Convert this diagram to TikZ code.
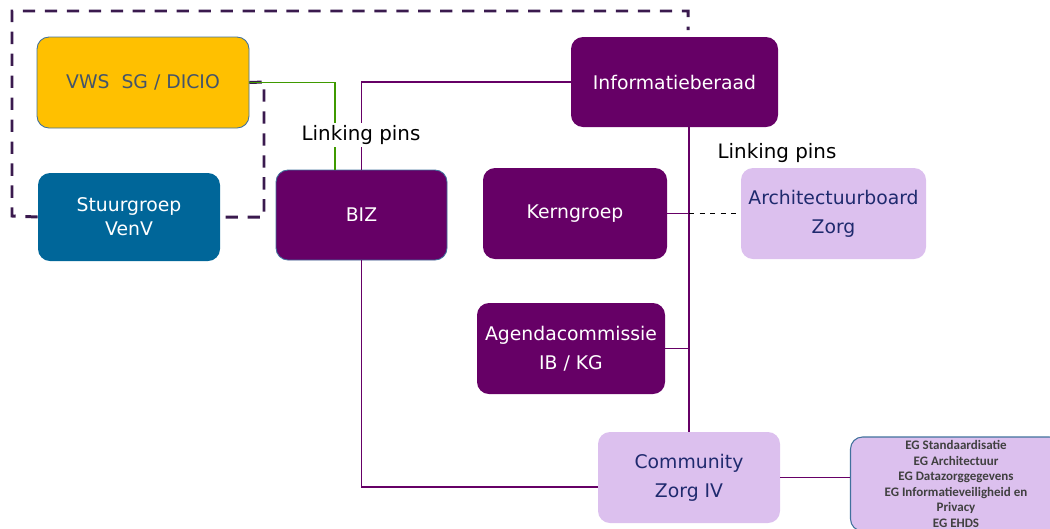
\documentclass[tikz,border=0pt]{standalone}
\usepackage{fontspec}
\setmainfont{DejaVu Sans}
\newfontfamily\egfont{Carlito}
\definecolor{ibpurple}{HTML}{660066}
\definecolor{lilac}{HTML}{DCC0EE}
\definecolor{gold}{HTML}{FFC000}
\definecolor{venvblue}{HTML}{006699}
\definecolor{dashpurple}{HTML}{3A1A4E}
\definecolor{edgeblue}{HTML}{41719C}
\definecolor{navytext}{HTML}{1F2A6E}
\definecolor{slatetext}{HTML}{44546A}
\definecolor{pingreen}{HTML}{3F9A00}
\pgfmathsetlengthmacro\unitpx{0.02cm}
\tikzset{
  box/.style={rounded corners=12*\unitpx, align=center, inner sep=0pt, font=\fontsize{10.7}{16.5}\selectfont},
  darkbox/.style={box, fill=ibpurple, text=white},
  lightbox/.style={box, fill=lilac, text=navytext},
  link/.style={draw=ibpurple, line width=0.6pt},
  dashline/.style={draw=dashpurple, line width=1.7pt, dash pattern=on 7pt off 5.5pt},
  pinlabel/.style={fill=white, inner sep=1.5pt, font=\fontsize{11.3}{13}\selectfont}
}
\begin{document}
\begin{tikzpicture}[x=0.02cm, y=-0.02cm]
\useasboundingbox (0,0) rectangle (1050,528);
\node[box, fill=gold, draw=edgeblue, line width=0.5pt, text=slatetext, minimum width=212*\unitpx, minimum height=91*\unitpx] (vws) at (143,82.5) {VWS\ \ SG / DICIO};
\node[box, fill=venvblue, text=white, minimum width=182*\unitpx, minimum height=88*\unitpx, font=\fontsize{10.7}{13.5}\selectfont] (stuur) at (129,217) {Stuurgroep\\VenV};
\node[darkbox, draw=edgeblue, line width=0.5pt, minimum width=171*\unitpx, minimum height=90*\unitpx] (biz) at (361.5,215) {BIZ};
\node[darkbox, minimum width=207*\unitpx, minimum height=90*\unitpx] (info) at (674.5,82) {Informatieberaad};
\node[darkbox, minimum width=184*\unitpx, minimum height=91*\unitpx] (kern) at (575,213.5) {Kerngroep};
\node[darkbox, minimum width=188*\unitpx, minimum height=91*\unitpx] (agenda) at (571,348.5) {Agendacommissie\\IB / KG};
\node[lightbox, minimum width=185*\unitpx, minimum height=91*\unitpx] (arch) at (833.5,213.5) {Architectuurboard\\Zorg};
\node[lightbox, minimum width=182*\unitpx, minimum height=91*\unitpx] (comm) at (689,477.5) {Community\\Zorg IV};
\node[box, fill=lilac, draw=edgeblue, line width=0.6pt, text=black!75, minimum width=211*\unitpx, minimum height=94*\unitpx, font=\egfont\bfseries\fontsize{7.4}{8.8}\selectfont] (eg) at (956,484) {EG Standaardisatie\\EG Architectuur\\EG Datazorggegevens\\EG Informatieveiligheid en\\Privacy\\EG EHDS};
\coordinate (dashcorner) at (264,82);
\coordinate (dashleft) at (12,216);
\coordinate (dashtop) at (688,11);
\coordinate (dashend) at (688,30);
\draw[dashline] (vws.east) -- (dashcorner) |- (stuur.east);
\draw[dashline] (stuur.west) -- (dashleft) |- (dashtop) -- (dashend);
\draw[draw=pingreen, line width=0.6pt] (vws.east) -| ([xshift=-26.5*\unitpx]biz.north);
\draw[link] (info.west) -| (biz.north);
\draw[link] (info.south -| comm.north) -- (comm.north);
\draw[link] (kern.east) -- (kern.east -| comm.north);
\draw[dashed, thin] (kern.east -| comm.north) -- (arch.west);
\draw[link] (agenda.east) -- (agenda.east -| comm.north);
\draw[link] (biz.south) |- ([yshift=-9.5*\unitpx]comm.west);
\draw[link] (comm.east) -- (comm.east -| eg.west);
\node[pinlabel] (pins1) at (361,135) {Linking pins};
\node[pinlabel] (pins2) at (777,153) {Linking pins};
\end{tikzpicture}
\end{document}
